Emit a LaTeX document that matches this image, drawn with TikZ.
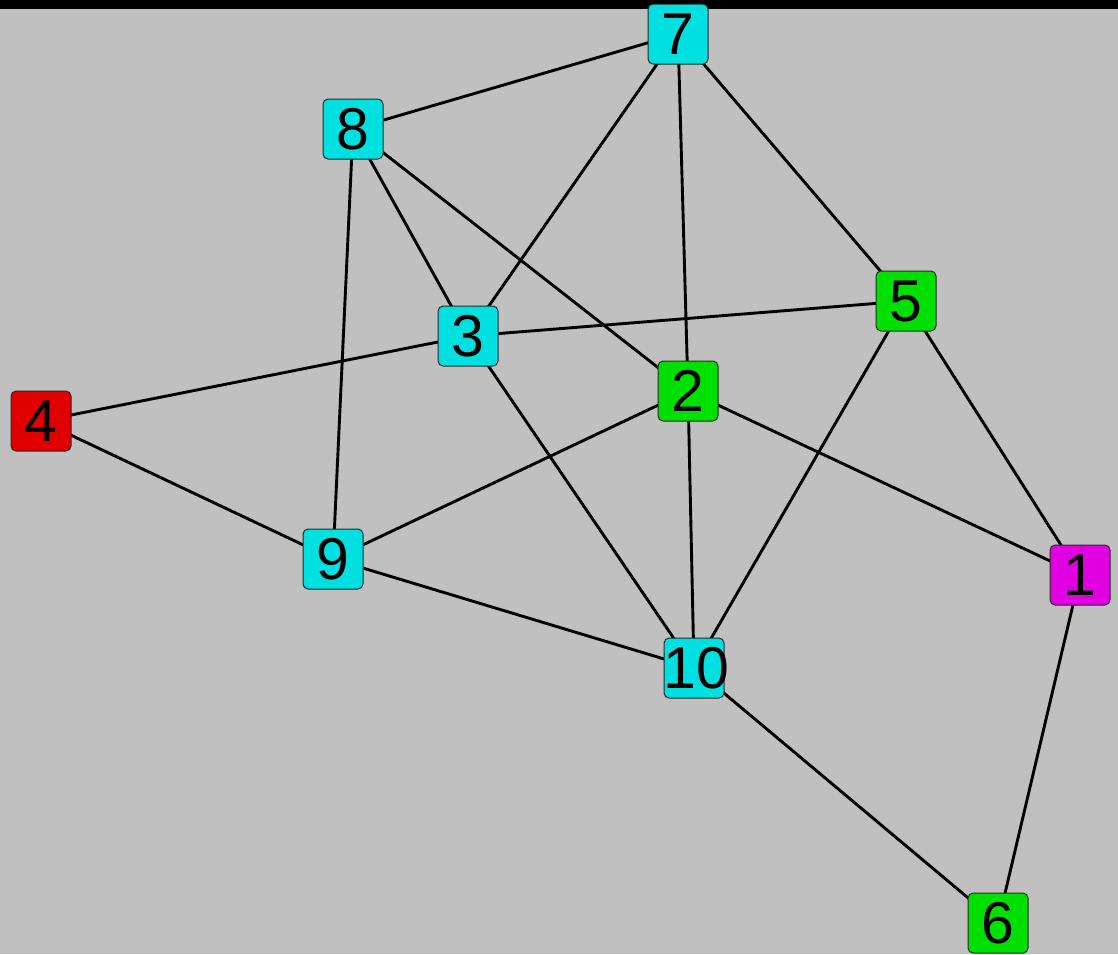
\documentclass[tikz,border=0pt]{standalone}
\usepackage{fontspec}
\setmainfont{Liberation Sans}
\usetikzlibrary{backgrounds}
\definecolor{bg}{RGB}{192,192,192}
\definecolor{ncyan}{RGB}{0,224,224}
\definecolor{ngreen}{RGB}{0,224,0}
\definecolor{nred}{RGB}{224,0,0}
\definecolor{nmag}{RGB}{224,0,224}
\definecolor{nborder}{RGB}{40,40,40}
\begin{document}
\begin{tikzpicture}[x=1pt,y=-1pt,
  vbox/.style={draw=nborder, line width=1pt, rounded corners=5pt, minimum width=60pt, minimum height=60pt, inner sep=0pt, font=\fontsize{59}{59}\selectfont, text depth=0pt},
  edge/.style={line width=2.9pt, black}]
\useasboundingbox (0,0) rectangle (1118,954);
\begin{pgfonlayer}{background}
\fill[bg] (0,0) rectangle (1118,954);
\fill[black] (0,0) rectangle (1118,9);
\end{pgfonlayer}
\node[vbox, fill=nmag]   (n1)  at (1080,575) {1};
\node[vbox, fill=ngreen] (n2)  at (688,391) {2};
\node[vbox, fill=ncyan]  (n3)  at (468,336) {3};
\node[vbox, fill=nred]   (n4)  at (41,421) {4};
\node[vbox, fill=ngreen] (n5)  at (906,301) {5};
\node[vbox, fill=ngreen] (n6)  at (998,923) {6};
\node[vbox, fill=ncyan]  (n7)  at (678,34) {7};
\node[vbox, fill=ncyan]  (n8)  at (353,129) {8};
\node[vbox, fill=ncyan]  (n9)  at (333,559) {9};
\node[vbox, fill=ncyan]  (n10) at (694,668) {\makebox[0pt]{\hspace{4pt}10}};
\begin{pgfonlayer}{background}
\draw[edge] (n7.center) -- (n8.center);
\draw[edge] (n7.center) -- (n3.center);
\draw[edge] (n7.center) -- (n2.center);
\draw[edge] (n7.center) -- (n5.center);
\draw[edge] (n8.center) -- (n3.center);
\draw[edge] (n8.center) -- (n2.center);
\draw[edge] (n8.center) -- (n9.center);
\draw[edge] (n3.center) -- (n5.center);
\draw[edge] (n3.center) -- (n4.center);
\draw[edge] (n3.center) -- (n10.center);
\draw[edge] (n2.center) -- (n9.center);
\draw[edge] (n2.center) -- (n10.center);
\draw[edge] (n2.center) -- (n1.center);
\draw[edge] (n5.center) -- (n10.center);
\draw[edge] (n5.center) -- (n1.center);
\draw[edge] (n4.center) -- (n9.center);
\draw[edge] (n9.center) -- (n10.center);
\draw[edge] (n10.center) -- (n6.center);
\draw[edge] (n1.center) -- (n6.center);
\end{pgfonlayer}
\end{tikzpicture}
\end{document}
